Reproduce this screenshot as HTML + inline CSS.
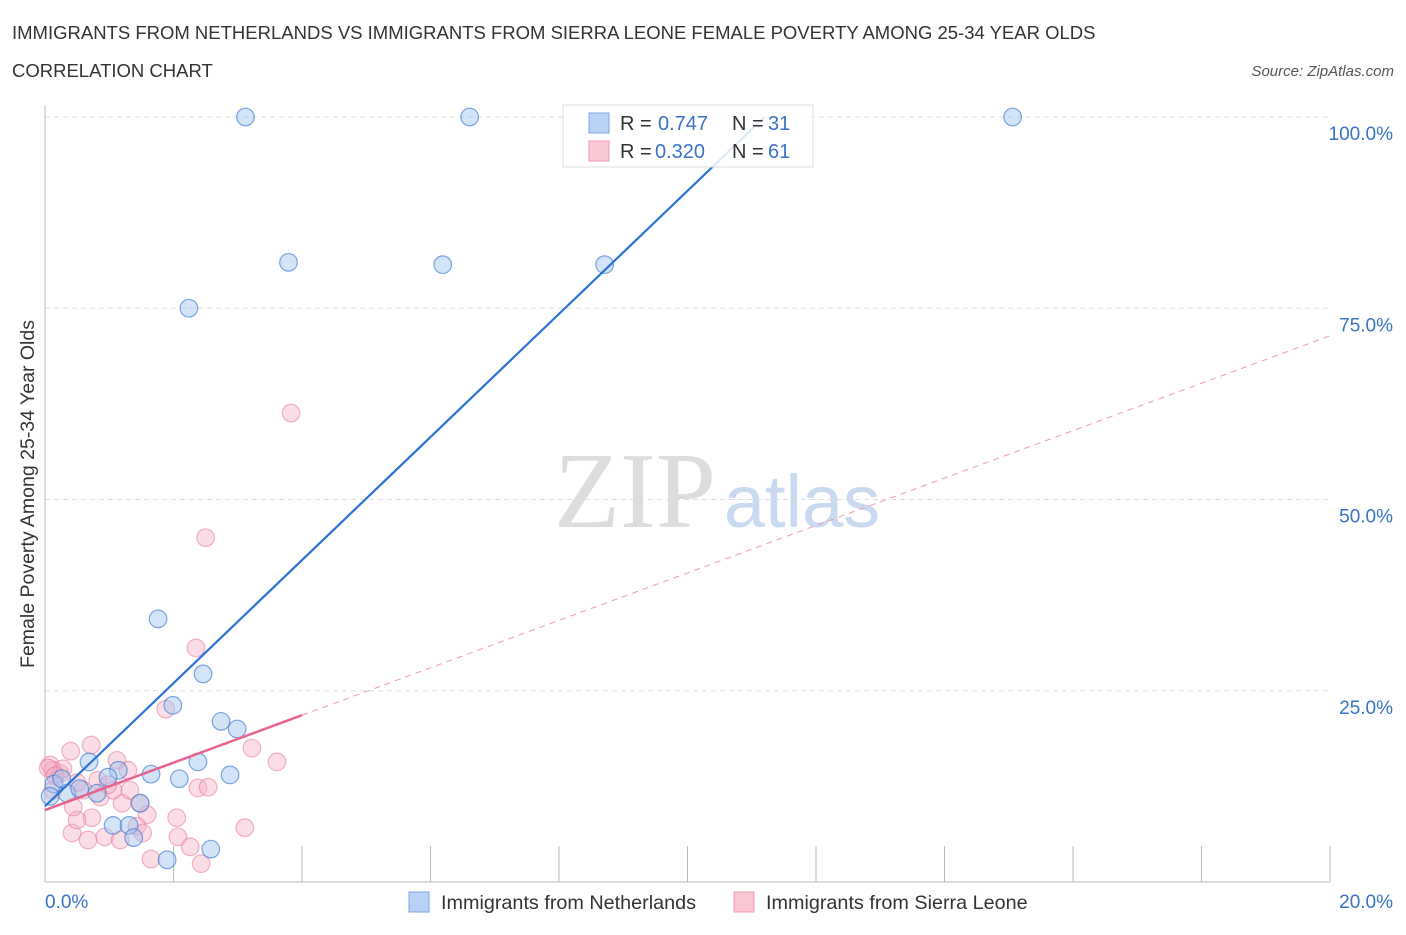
<!DOCTYPE html>
<html><head><meta charset="utf-8"><style>
body{margin:0;background:#fff;font-family:"Liberation Sans",sans-serif;}
</style></head><body>
<svg width="1406" height="930" xmlns="http://www.w3.org/2000/svg">
<text x="12" y="39" font-size="18.5" fill="#333">IMMIGRANTS FROM NETHERLANDS VS IMMIGRANTS FROM SIERRA LEONE FEMALE POVERTY AMONG 25-34 YEAR OLDS</text>
<text x="12" y="77" font-size="18.5" fill="#333">CORRELATION CHART</text>
<text x="1394" y="76" font-size="15" font-style="italic" fill="#555" text-anchor="end">Source: ZipAtlas.com</text>
<g>
<text x="635" y="527" font-size="108" font-family="Liberation Serif,serif" fill="#ddd" text-anchor="middle">ZIP</text>
<text x="802" y="527" font-size="74" fill="#c9daf0" text-anchor="middle">atlas</text>
</g>
<g id="grid"></g>
<g id="axes"></g>
<g id="marks"></g>
<g>
<rect x="563" y="105" width="250" height="62" fill="#fff" fill-opacity="0.85" stroke="#ddd"/>
<rect x="589" y="113" width="20" height="20" fill="#b8d2f5" stroke="#7aa6e0"/>
<text x="620" y="130" font-size="20" fill="#333">R = </text><text x="658" y="130" font-size="20" fill="#3a72c8">0.747</text>
<text x="732" y="130" font-size="20" fill="#333">N = </text><text x="768" y="130" font-size="20" fill="#3a72c8">31</text>
<rect x="589" y="141" width="20" height="20" fill="#f9c6d4" stroke="#ec9ab2"/>
<text x="620" y="158" font-size="20" fill="#333">R = </text><text x="655" y="158" font-size="20" fill="#3a72c8">0.320</text>
<text x="732" y="158" font-size="20" fill="#333">N = </text><text x="768" y="158" font-size="20" fill="#3a72c8">61</text>
</g>
<g>
<rect x="409" y="892" width="20" height="20" fill="#b8d2f5" stroke="#7aa6e0"/>
<text x="441" y="909" font-size="19.8" fill="#333">Immigrants from Netherlands</text>
<rect x="734" y="892" width="20" height="20" fill="#f9c6d4" stroke="#ec9ab2"/>
<text x="766" y="909" font-size="19.8" fill="#333">Immigrants from Sierra Leone</text>
</g>
<text transform="translate(34,494) rotate(-90)" font-size="19.5" fill="#333" text-anchor="middle">Female Poverty Among 25-34 Year Olds</text>
</svg>
<script>
const yTicks=[25,50,75,100];
const yTickLabels=["25.0%","50.0%","75.0%","100.0%"];
const blueX=[3.12,6.61,15.06,3.79,6.19,8.71,2.24,1.76,2.46,1.99,2.74,2.99,1.65,2.09,2.38,2.88,0.685,1.14,0.98,0.14,0.34,0.81,1.48,1.06,1.31,1.38,1.90,2.58,0.08,0.54,0.26];
const blueY=[100,100,100,81,80.7,80.7,75,34.4,27.2,23.1,21,20,14.1,13.5,15.7,14,15.7,14.6,13.7,12.8,11.6,11.6,10.3,7.4,7.4,5.8,2.9,4.3,11.2,12.2,13.5];
const pinkX=[1.88,3.22,3.61,2.38,2.54,3.11,2.05,2.07,2.26,2.43,1.65,0.40,0.72,1.12,1.29,0.42,0.67,0.93,1.17,0.73,0.50,1.59,1.43,1.52,1.48,0.86,1.20,0.44,0.12,0.23,0.08,0.28,0.59,1.06,1.32,0.82,0.98,0.50,0.12,3.83,2.50,2.35,0.05,0.16];
const pinkY=[22.6,17.5,15.7,12.3,12.4,7.1,8.4,5.9,4.6,2.4,3.0,17.1,17.9,15.9,14.6,6.4,5.5,5.9,5.5,8.4,8.1,8.8,7.3,6.4,10.3,11.1,10.3,9.8,14.6,14.2,15.3,14.8,12.0,12.0,12.0,13.3,12.7,13.0,12.0,61.3,45,30.6,14.9,13.9];
const blueLine=[0,9.9,11.2,100];
const pinkLine=[0,9.4,20,71.4];
const pinkSolidEnd=4.0;
const X0=45,X1=1330,Y0=882,Y100=117;
const sx=v=>X0+(v/20)*(X1-X0);
const sy=v=>Y0-(v/100)*(Y0-Y100);
const NS="http://www.w3.org/2000/svg";
function mk(t,a,p){const e=document.createElementNS(NS,t);for(const k in a)e.setAttribute(k,a[k]);p.appendChild(e);return e;}
const grid=document.getElementById('grid'),axes=document.getElementById('axes'),marks=document.getElementById('marks');
yTicks.forEach((t,i)=>{
 const l=mk('line',{x1:X0,x2:X1,y1:sy(t),y2:sy(t),stroke:'#ddd','stroke-dasharray':'5,4'},grid);
 
 
 const tx=mk('text',{x:1393,y:sy(t)+23,'font-size':19,fill:'#3a72c8','text-anchor':'end'},axes);
 tx.textContent=yTickLabels[i];
 
 
});
const ax=mk('line',{x1:X0,x2:X1,y1:Y0,y2:Y0,stroke:'#bbb'},axes);


const ay=mk('line',{x1:X0,x2:X0,y1:105,y2:Y0,stroke:'#bbb'},axes);


for(let i=1;i<=10;i++){const x=sx(i*2);const t=mk('line',{x1:x,x2:x,y1:Y0-36,y2:Y0,stroke:'#bbb'},axes);
 
 }
const xl=mk('text',{x:45,y:908,'font-size':19,fill:'#3a72c8'},axes);xl.textContent='0.0%';


const xr=mk('text',{x:1393,y:908,'font-size':19,fill:'#3a72c8','text-anchor':'end'},axes);xr.textContent='20.0%';


pinkX.forEach((v,i)=>{const c=mk('circle',{cx:sx(v),cy:sy(pinkY[i]),r:8.8,fill:'rgba(246,170,192,0.4)',stroke:'rgba(232,120,155,0.55)','stroke-width':1.2},marks);
 
 });
blueX.forEach((v,i)=>{const c=mk('circle',{cx:sx(v),cy:sy(blueY[i]),r:8.8,fill:'rgba(160,195,240,0.45)',stroke:'rgba(60,120,210,0.65)','stroke-width':1.2},marks);
 
 });
const py=x=>pinkLine[1]+(pinkLine[3]-pinkLine[1])*(x-pinkLine[0])/(pinkLine[2]-pinkLine[0]);
const pd=mk('line',{x1:sx(pinkSolidEnd),y1:sy(py(pinkSolidEnd)),x2:sx(pinkLine[2]),y2:sy(pinkLine[3]),stroke:'#ec9ab2','stroke-width':1,'stroke-dasharray':'6,5'},marks);


const ps=mk('line',{x1:sx(pinkLine[0]),y1:sy(pinkLine[1]),x2:sx(pinkSolidEnd),y2:sy(py(pinkSolidEnd)),stroke:'#e8628e','stroke-width':2.5},marks);


const bl=mk('line',{x1:sx(blueLine[0]),y1:sy(blueLine[1]),x2:sx(blueLine[2]),y2:sy(blueLine[3]),stroke:'#2a72d4','stroke-width':2.2},marks);


</script>
</body></html>
